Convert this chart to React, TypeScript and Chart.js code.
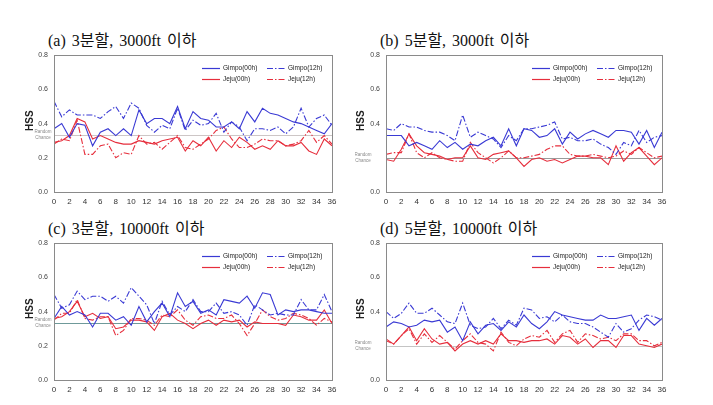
import React, { useEffect, useRef } from "react";
import { Chart, registerables } from "chart.js";
Chart.register(...registerables);

// ---------- data ----------
const HOURS = [0,1,2,3,4,5,6,7,8,9,10,11,12,13,14,15,16,17,18,19,20,21,22,23,24,25,26,27,28,29,30,31,32,33,34,35,36];
const SERIES_LABELS = ["Gimpo(00h)", "Gimpo(12h)", "Jeju(00h)", "Jeju(12h)"];
const PANEL_TITLES = ["(a) 3분할, 3000ft 이하", "(b) 5분할, 3000ft 이하", "(c) 3분할, 10000ft 이하", "(d) 5분할, 10000ft 이하"];
const RANDOM_CHANCE = [1 / 3, 0.2, 1 / 3, 0.2];
const Y_TICKS = [0, 0.2, 0.4, 0.6, 0.8];

// (a) 3 categories, 3000ft
const A_GIMPO_00 = [0.37,0.40,0.32,0.40,0.39,0.27,0.35,0.37,0.33,0.37,0.33,0.48,0.40,0.43,0.43,0.40,0.50,0.37,0.47,0.43,0.42,0.38,0.38,0.41,0.37,0.47,0.41,0.49,0.46,0.45,0.43,0.41,0.40,0.38,0.36,0.34,0.40];
const A_GIMPO_12 = [0.53,0.44,0.48,0.45,0.45,0.45,0.43,0.47,0.50,0.43,0.52,0.49,0.39,0.35,0.39,0.37,0.49,0.36,0.42,0.39,0.40,0.46,0.35,0.41,0.38,0.30,0.37,0.37,0.36,0.38,0.34,0.38,0.49,0.38,0.43,0.45,0.39];
const A_JEJU_00 = [0.29,0.30,0.33,0.43,0.41,0.31,0.33,0.31,0.29,0.28,0.28,0.30,0.29,0.28,0.30,0.31,0.32,0.24,0.30,0.27,0.32,0.24,0.30,0.26,0.32,0.29,0.25,0.27,0.25,0.30,0.27,0.27,0.29,0.24,0.22,0.31,0.27];
const A_JEJU_12 = [0.28,0.31,0.30,0.42,0.22,0.22,0.27,0.28,0.20,0.23,0.22,0.33,0.28,0.29,0.25,0.29,0.33,0.26,0.25,0.28,0.31,0.36,0.38,0.31,0.26,0.26,0.28,0.31,0.30,0.30,0.27,0.28,0.30,0.36,0.29,0.33,0.28];

// (b) 5 categories, 3000ft
const B_GIMPO_00 = [0.33,0.33,0.33,0.27,0.29,0.27,0.25,0.30,0.26,0.29,0.25,0.28,0.27,0.30,0.32,0.27,0.37,0.27,0.37,0.36,0.32,0.33,0.37,0.28,0.35,0.31,0.34,0.36,0.34,0.32,0.36,0.36,0.35,0.28,0.36,0.26,0.35];
const B_GIMPO_12 = [0.37,0.36,0.40,0.38,0.38,0.36,0.35,0.35,0.33,0.30,0.45,0.32,0.35,0.33,0.31,0.26,0.33,0.30,0.37,0.37,0.38,0.39,0.41,0.31,0.32,0.30,0.30,0.31,0.28,0.26,0.22,0.29,0.27,0.36,0.29,0.32,0.33];
const B_JEJU_00 = [0.19,0.18,0.25,0.34,0.27,0.23,0.22,0.21,0.19,0.20,0.20,0.27,0.20,0.19,0.22,0.23,0.24,0.20,0.15,0.19,0.20,0.18,0.19,0.17,0.19,0.21,0.21,0.20,0.20,0.16,0.27,0.18,0.23,0.26,0.21,0.16,0.20];
const B_JEJU_12 = [0.22,0.23,0.23,0.34,0.23,0.20,0.23,0.20,0.19,0.18,0.18,0.29,0.23,0.20,0.17,0.20,0.24,0.20,0.20,0.21,0.22,0.25,0.27,0.27,0.22,0.21,0.21,0.22,0.21,0.20,0.21,0.24,0.22,0.26,0.23,0.20,0.21];

// (c) 3 categories, 10000ft
const C_GIMPO_00 = [0.36,0.43,0.38,0.40,0.38,0.31,0.39,0.39,0.35,0.37,0.32,0.43,0.34,0.40,0.45,0.37,0.51,0.43,0.46,0.39,0.41,0.38,0.47,0.46,0.45,0.49,0.42,0.51,0.50,0.38,0.41,0.40,0.41,0.41,0.40,0.39,0.39];
const C_GIMPO_12 = [0.50,0.42,0.44,0.52,0.47,0.49,0.49,0.46,0.49,0.45,0.54,0.49,0.44,0.33,0.46,0.38,0.43,0.40,0.47,0.40,0.40,0.45,0.39,0.40,0.38,0.32,0.44,0.41,0.38,0.39,0.38,0.38,0.47,0.41,0.41,0.50,0.40];
const C_JEJU_00 = [0.36,0.37,0.40,0.46,0.37,0.39,0.36,0.37,0.30,0.31,0.35,0.35,0.34,0.29,0.37,0.39,0.35,0.33,0.30,0.33,0.35,0.32,0.35,0.34,0.35,0.31,0.34,0.33,0.33,0.33,0.32,0.38,0.37,0.35,0.35,0.41,0.33];
const C_JEJU_12 = [0.35,0.39,0.39,0.47,0.36,0.35,0.37,0.37,0.26,0.29,0.36,0.36,0.35,0.32,0.38,0.37,0.41,0.35,0.32,0.37,0.38,0.36,0.36,0.38,0.33,0.26,0.33,0.41,0.37,0.35,0.36,0.39,0.38,0.36,0.32,0.36,0.34];

// (d) 5 categories, 10000ft
const D_GIMPO_00 = [0.31,0.34,0.33,0.31,0.32,0.35,0.34,0.35,0.28,0.31,0.23,0.34,0.27,0.32,0.33,0.29,0.34,0.31,0.38,0.33,0.30,0.34,0.40,0.38,0.37,0.36,0.35,0.35,0.38,0.36,0.36,0.37,0.38,0.29,0.36,0.32,0.36];
const D_GIMPO_12 = [0.40,0.36,0.39,0.45,0.39,0.39,0.42,0.38,0.34,0.33,0.45,0.32,0.30,0.31,0.36,0.30,0.35,0.32,0.42,0.41,0.36,0.37,0.34,0.38,0.34,0.33,0.33,0.31,0.28,0.25,0.33,0.28,0.30,0.35,0.38,0.37,0.35];
const D_JEJU_00 = [0.24,0.21,0.26,0.31,0.23,0.30,0.24,0.21,0.22,0.17,0.21,0.23,0.21,0.23,0.21,0.27,0.23,0.23,0.22,0.23,0.23,0.24,0.21,0.26,0.25,0.21,0.24,0.19,0.23,0.23,0.19,0.26,0.26,0.21,0.20,0.19,0.21];
const D_JEJU_12 = [0.23,0.21,0.26,0.30,0.21,0.27,0.22,0.26,0.22,0.18,0.23,0.27,0.22,0.21,0.17,0.28,0.22,0.20,0.24,0.26,0.25,0.29,0.22,0.27,0.29,0.22,0.27,0.26,0.24,0.25,0.23,0.27,0.27,0.23,0.23,0.20,0.22];

const PANEL_DATA = [
  [A_GIMPO_00, A_GIMPO_12, A_JEJU_00, A_JEJU_12],
  [B_GIMPO_00, B_GIMPO_12, B_JEJU_00, B_JEJU_12],
  [C_GIMPO_00, C_GIMPO_12, C_JEJU_00, C_JEJU_12],
  [D_GIMPO_00, D_GIMPO_12, D_JEJU_00, D_JEJU_12],
];

// ---------- styles ----------
const BLUE = "#3a3ad4";
const RED = "#e62e3c";
const DASHDOT = [6, 2, 1.5, 2];
const SERIES_STYLE = [
  { color: BLUE, dash: [] as number[] },
  { color: BLUE, dash: DASHDOT },
  { color: RED, dash: [] as number[] },
  { color: RED, dash: DASHDOT },
];
const SANS = "'Liberation Sans', Arial, sans-serif";
const RC_COLORS = ["#cdc6c6", "#9a9a9a", "#6f9a9a", "#c4c4c4"];

type Layout = {
  left: number; top: number; width: number; height: number;
  yWidth: number; padRight: number; titleX: number; titleY: number;
  hssX: number; rcX: number; hide02: boolean;
};

const LAYOUTS: Layout[] = [
  { left: 0, top: 45, width: 355, height: 170, yWidth: 54, padRight: 23, titleX: 48, titleY: 33, hssX: 30, rcX: 43, hide02: false },
  { left: 355, top: 45, width: 358, height: 170, yWidth: 31, padRight: 51, titleX: 380, titleY: 33, hssX: 6, rcX: 8, hide02: true },
  { left: 0, top: 233, width: 355, height: 170, yWidth: 54, padRight: 23, titleX: 48, titleY: 221, hssX: 30, rcX: 43, hide02: false },
  { left: 355, top: 233, width: 358, height: 170, yWidth: 31, padRight: 51, titleX: 380, titleY: 221, hssX: 6, rcX: 8, hide02: true },
];

function makeOverlay(idx: number) {
  const L = LAYOUTS[idx];
  const rc = RANDOM_CHANCE[idx];
  return {
    id: "overlay" + idx,
    beforeDatasetsDraw(chart: any) {
      const { ctx, chartArea: ca, scales } = chart;
      const y = Math.round(scales.y.getPixelForValue(rc)) + 0.5;
      ctx.save();
      ctx.strokeStyle = RC_COLORS[idx];
      ctx.lineWidth = 1;
      ctx.beginPath();
      ctx.moveTo(ca.left, y);
      ctx.lineTo(ca.right, y);
      ctx.stroke();
      ctx.restore();
    },
    afterDraw(chart: any) {
      const { ctx, chartArea: ca, scales } = chart;
      ctx.save();
      // frame
      ctx.strokeStyle = "#8a8a8a";
      ctx.lineWidth = 1;
      ctx.strokeRect(Math.round(ca.left) + 0.5, Math.round(ca.top) + 0.5, Math.round(ca.right - ca.left), Math.round(ca.bottom - ca.top));
      // HSS label
      ctx.fillStyle = "#222";
      ctx.font = `bold 10px ${SANS}`;
      ctx.textAlign = "center";
      ctx.textBaseline = "middle";
      ctx.translate(L.hssX, (ca.top + ca.bottom) / 2 - 3);
      ctx.rotate(-Math.PI / 2);
      ctx.fillText("HSS", 0, 0);
      ctx.setTransform(1, 0, 0, 1, 0, 0);
      // Random chance text
      const yrc = scales.y.getPixelForValue(rc);
      ctx.fillStyle = "#8a8a8a";
      ctx.font = `4.5px ${SANS}`;
      ctx.textAlign = "center";
      ctx.fillText("Random", L.rcX, yrc - 3);
      ctx.fillText("Chance", L.rcX, yrc + 3);
      // legend
      ctx.font = `6.5px ${SANS}`;
      ctx.textAlign = "left";
      ctx.textBaseline = "middle";
      SERIES_LABELS.forEach((lab, i) => {
        const col = i % 2;
        const row = Math.floor(i / 2);
        const x0 = ca.right - 130 + col * 65;
        const yy = Math.round(ca.top + 13 + row * 11) + 0.5;
        ctx.strokeStyle = SERIES_STYLE[i].color;
        ctx.lineWidth = 1.2;
        ctx.setLineDash(SERIES_STYLE[i].dash);
        ctx.beginPath();
        ctx.moveTo(x0, yy);
        ctx.lineTo(x0 + 18, yy);
        ctx.stroke();
        ctx.setLineDash([]);
        ctx.fillStyle = "#222";
        ctx.fillText(lab, x0 + 21, yy);
      });
      ctx.restore();
    },
  };
}

function Panel({ idx }: { idx: number }) {
  const ref = useRef<HTMLCanvasElement>(null);
  const L = LAYOUTS[idx];
  useEffect(() => {
    if (!ref.current) return;
    const datasets = PANEL_DATA[idx].map((vals, i) => ({
      label: SERIES_LABELS[i],
      data: vals.map((v, k) => ({ x: HOURS[k], y: v })),
      borderColor: SERIES_STYLE[i].color,
      borderDash: SERIES_STYLE[i].dash,
      borderWidth: 1.1,
      pointRadius: 0,
      fill: false,
      tension: 0,
    }));
    const chart = new Chart(ref.current, {
      type: "line",
      data: { datasets },
      options: {
        animation: false,
        responsive: false,
        maintainAspectRatio: false,
        devicePixelRatio: 1,
        layout: { padding: { top: 8, right: L.padRight, left: 0, bottom: 0 } },
        plugins: { legend: { display: false }, tooltip: { enabled: false }, title: { display: false } },
        scales: {
          x: {
            type: "linear",
            min: HOURS[0],
            max: HOURS[HOURS.length - 1],
            grid: { display: false, drawTicks: false, tickLength: 0 },
            border: { display: false },
            ticks: {
              stepSize: 2,
              autoSkip: false,
              maxRotation: 0,
              padding: 5,
              color: "#333",
              font: { size: 8, family: SANS },
              callback: (v: any) => String(v),
            },
            afterFit: (s: any) => { s.height = 23; },
          },
          y: {
            min: Y_TICKS[0],
            max: Y_TICKS[Y_TICKS.length - 1],
            grid: { display: false, drawTicks: false, tickLength: 0 },
            border: { display: false },
            ticks: {
              stepSize: 0.2,
              padding: 6,
              color: "#444",
              font: { size: 7, family: SANS },
              callback: (v: any) => {
                const n = Number(v);
                if (L.hide02 && Math.abs(n - 0.2) < 1e-6) return "";
                return n.toFixed(1);
              },
            },
            afterFit: (s: any) => { s.width = L.yWidth; },
          },
        },
      },
      plugins: [makeOverlay(idx)],
    } as any);
    return () => chart.destroy();
  }, []);
  return (
    <>
      <div
        style={{
          position: "absolute",
          left: L.titleX,
          top: L.titleY,
          fontFamily: "'Liberation Serif', 'Noto Sans CJK KR', serif",
          fontSize: 16,
          lineHeight: "16px",
          wordSpacing: 2,
          color: "#111",
          whiteSpace: "nowrap",
        }}
      >
        {PANEL_TITLES[idx]}
      </div>
      <canvas
        ref={ref}
        width={L.width}
        height={L.height}
        style={{ position: "absolute", left: L.left, top: L.top, width: L.width, height: L.height }}
      />
    </>
  );
}

export default function App() {
  return (
    <div style={{ position: "absolute", left: 0, top: 0, width: 713, height: 405, background: "#fff", overflow: "hidden" }}>
      {[0, 1, 2, 3].map((i) => (
        <Panel key={i} idx={i} />
      ))}
    </div>
  );
}
